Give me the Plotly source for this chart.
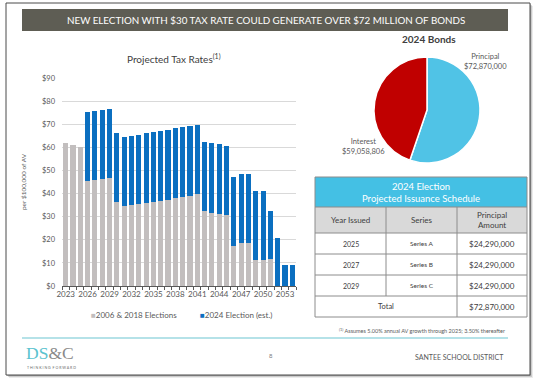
import plotly.graph_objects as go

W, H = 540, 381

# ---- data -------------------------------------------------------------
years = list(range(2023, 2055))
existing_rate = [62.0, 61.0, 60.1, 45.5, 45.8, 46.3, 46.7, 36.2, 34.6, 35.0,
                 35.3, 35.8, 36.2, 36.9, 37.4, 38.1, 38.6, 39.1, 39.6, 32.4,
                 31.8, 31.2, 30.8, 17.2, 18.4, 18.4, 11.2, 11.2, 11.5, 0.0,
                 0.0, 0.0]
new_rate = [0.0, 0.0, 0.0, 30.0, 30.1, 29.9, 29.9, 30.1, 29.9, 30.1,
            30.2, 30.2, 30.4, 30.1, 30.2, 30.1, 30.0, 30.1, 30.2, 30.1,
            30.1, 30.1, 29.9, 30.0, 29.9, 29.9, 30.1, 30.1, 20.8, 20.7,
            9.1, 9.1]
series_names = ["2006 & 2018 Elections", "2024 Election (est.)"]
year_ticks = list(range(2023, 2055, 3))

bond_labels = ["Principal", "Interest"]
bond_values = [72870000, 59058806]

issue_years = ["2025", "2027", "2029"]
issue_series = ["Series A", "Series B", "Series C"]
issue_amounts = [24290000, 24290000, 24290000]

GREY = "#c2bebe"
BLUE = "#0b6fc0"
RED = "#c00000"
SKY = "#50c3e6"
TEXT = "#595959"
DARK = "#404040"
FONT = "Lato"


def px(x):
    return x / W


def py(y):
    return 1 - y / H


ann = []
shapes = []


def note(x, y, text, size, color=TEXT, anchor="center", family=FONT):
    ann.append(dict(x=px(x), y=py(y), xref="paper", yref="paper",
                    xanchor=anchor, yanchor="middle", text=text,
                    showarrow=False, align="center",
                    font=dict(size=size, color=color, family=family)))


def rect(x0, y0, x1, y1, fill, line=None, layer="below"):
    shapes.append(dict(type="rect", xref="paper", yref="paper",
                       x0=px(x0), x1=px(x1), y0=py(y1), y1=py(y0),
                       fillcolor=fill, layer=layer,
                       line=line or dict(width=0)))


def hline(x0, x1, y, color, width=1):
    shapes.append(dict(type="line", xref="paper", yref="paper",
                       x0=px(x0), x1=px(x1), y0=py(y), y1=py(y),
                       line=dict(color=color, width=width)))


def vline(x, y0, y1, color, width=1):
    shapes.append(dict(type="line", xref="paper", yref="paper",
                       x0=px(x), x1=px(x), y0=py(y1), y1=py(y0),
                       line=dict(color=color, width=width)))


fig = go.Figure()

# ---- stacked tax-rate bars ----------------------------------------------
fig.add_trace(go.Bar(x=years, y=existing_rate, name=series_names[0],
                     marker=dict(color=GREY, line=dict(width=0)),
                     showlegend=False))
fig.add_trace(go.Bar(x=years, y=new_rate, name=series_names[1],
                     marker=dict(color=BLUE, line=dict(width=0)),
                     showlegend=False))

# ---- bond pie -----------------------------------------------------------
fig.add_trace(go.Pie(labels=bond_labels, values=bond_values, sort=False,
                     direction="clockwise", rotation=0,
                     marker=dict(colors=[SKY, RED],
                                 line=dict(color="white", width=1.5)),
                     textinfo="none", showlegend=False,
                     domain=dict(x=[px(374), px(480)], y=[py(163), py(57)])))

fig.update_layout(
    width=W, height=H, autosize=False,
    margin=dict(l=0, r=0, t=0, b=0),
    paper_bgcolor="white", plot_bgcolor="white",
    barmode="stack", bargap=0.3,
    font=dict(family=FONT, color=TEXT, size=8),
    xaxis=dict(domain=[px(62), px(296)], range=[2022.5, 2054.5],
               tickmode="array", tickvals=year_ticks,
               ticks="", showgrid=False, zeroline=False, automargin=False,
               showline=True, linecolor="#595959", linewidth=1,
               tickfont=dict(size=8, color=TEXT),
               minor=dict(tick0=2022.5, dtick=1, ticks="outside",
                          ticklen=3, tickcolor="#595959", showgrid=False)),
    yaxis=dict(domain=[py(286), py(78)], range=[0, 90], dtick=10,
               tickprefix="$", showgrid=True, gridcolor="#d9d9d9",
               gridwidth=1, zeroline=False, showline=False, automargin=False,
               ticks="", ticklabelstandoff=6,
               tickfont=dict(size=7.5, color=TEXT),
               title=dict(text="per $100,000 of AV",
                          font=dict(size=6.5, color=TEXT), standoff=14)),
)

# slide drop shadow and frame
for i, op in enumerate([0.10, 0.18, 0.28]):
    off = 3 - i
    rect(6 + off, 3 + off, 530 + off, 375 + off, f"rgba(60,60,60,{op})")
rect(6, 3, 530, 375, "white", line=dict(color="#4a4a4a", width=1))

# title banner
rect(22, 9, 508, 31, "#5e5d54")
note(266, 20, "NEW ELECTION WITH $30 TAX RATE COULD GENERATE OVER $72 MILLION OF BONDS",
     9.8, "white")

# bar chart title and legend
note(174, 59, "Projected Tax Rates<sup>(1)</sup>", 10, DARK)
note(89, 315, f"<span style='color:{GREY}'>■</span>{series_names[0]}", 8,
     anchor="left")
note(198, 315, f"<span style='color:{BLUE}'>■</span>{series_names[1]}", 8,
     anchor="left")

# pie title and slice labels
note(429, 39, "<b>2024 Bonds</b>", 10, DARK)
note(485, 62, f"{bond_labels[0]}<br>${bond_values[0]:,}", 7.5)
note(363, 146, f"{bond_labels[1]}<br>${bond_values[1]:,}", 7.5)

# issuance schedule table
cx = [315, 386, 457, 527]
ry = [177, 207, 233, 254, 275, 296, 317]
LINE = "#8c8c8c"
rect(cx[0], ry[0], cx[3], ry[1], "#44c0e4", layer="above")
rect(cx[0], ry[1], cx[3], ry[2], "#d9d9d9", layer="above")
for y in ry:
    hline(cx[0], cx[3], y, LINE)
vline(cx[0], ry[0], ry[6], LINE)
vline(cx[3], ry[0], ry[6], LINE)
vline(cx[1], ry[1], ry[5], LINE)
vline(cx[2], ry[1], ry[6], LINE)

mid = [(cx[i] + cx[i + 1]) / 2 for i in range(3)]
note((cx[0] + cx[3]) / 2, 192, "2024 Election<br>Projected Issuance Schedule",
     9.5, "white")
for x, t in zip(mid, ["Year Issued", "Series", "Principal<br>Amount"]):
    note(x, 220, t, 8, DARK)
for i in range(3):
    yc = (ry[2 + i] + ry[3 + i]) / 2
    note(mid[0], yc, issue_years[i], 7, DARK)
    note(mid[1], yc, issue_series[i], 6.5, DARK)
    note(mid[2], yc, f"${issue_amounts[i]:,}", 8, DARK)
yc = (ry[5] + ry[6]) / 2
note((cx[0] + cx[2]) / 2, yc, "Total", 7.5, DARK)
note(mid[2], yc, f"${sum(issue_amounts):,}", 8, DARK)

# footnote and footer
note(507, 330, "<sup>(1)</sup> Assumes 5.00% annual AV growth through 2025; 3.50% thereafter",
     5.5, anchor="right")
hline(22, 508, 338, "#6cc6d1", 1.2)
note(24, 353, "<span style='color:#5bc3cf'>DS</span><span style='color:#8a8a8a'>&amp;C</span>",
     17.5, anchor="left", family="Liberation Serif")
note(25, 367, "T H I N K I N G  F O R W A R D", 3.6, "#6a6a6a", anchor="left")
note(271, 355, "8", 6, "#7f7f7f")
note(506, 357, "SANTEE SCHOOL DISTRICT", 7, anchor="right")

fig.update_layout(shapes=shapes, annotations=ann)
fig.write_html("out.html")
